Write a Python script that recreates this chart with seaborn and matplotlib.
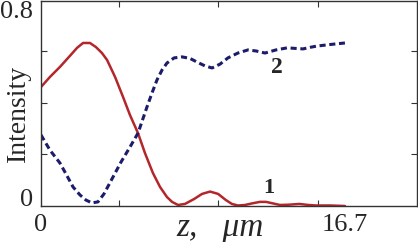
import matplotlib
matplotlib.use("Agg")
import matplotlib.pyplot as plt
import seaborn as sns
import pandas as pd

# Curve 1 (solid red)
z1 = [0.0, 0.49, 1.04, 1.59, 1.98, 2.31, 2.69, 3.02, 3.35, 3.63, 4.07, 4.51, 4.89, 5.33, 5.71,
      6.15, 6.54, 6.92, 7.2, 7.53, 7.91, 8.41, 8.85, 9.29, 9.73, 10.16, 10.49, 10.82, 11.21,
      11.59, 12.03, 12.36, 12.75, 13.13, 13.6, 14.2, 14.7, 15.1, 15.9, 16.7]
i1 = [0.462, 0.501, 0.540, 0.583, 0.614, 0.633, 0.633, 0.617, 0.594, 0.567, 0.501, 0.423, 0.353,
      0.283, 0.206, 0.128, 0.074, 0.035, 0.016, 0.004, 0.008, 0.027, 0.047, 0.056, 0.047, 0.023,
      0.008, 0.002, 0.004, 0.010, 0.016, 0.016, 0.010, 0.004, 0.005, 0.008, 0.004, 0.002, 0.002,
      0.0]

# Curve 2 (dashed blue)
z2 = [0.0, 0.49, 1.04, 1.43, 1.76, 2.14, 2.47, 2.80, 3.13, 3.46, 3.96, 4.40, 4.89, 5.33, 5.82,
      6.10, 6.37, 6.65, 6.92, 7.31, 7.75, 8.19, 8.57, 9.01, 9.40, 9.84, 10.27, 10.82, 11.37,
      11.81, 12.31, 12.91, 13.52, 13.96, 14.40, 14.78, 15.16, 15.88, 16.70]
i2 = [0.276, 0.217, 0.167, 0.117, 0.074, 0.043, 0.023, 0.012, 0.016, 0.047, 0.113, 0.171, 0.229,
      0.283, 0.384, 0.439, 0.489, 0.528, 0.555, 0.575, 0.579, 0.573, 0.559, 0.544, 0.536, 0.551,
      0.575, 0.594, 0.606, 0.602, 0.594, 0.606, 0.614, 0.612, 0.610, 0.616, 0.621, 0.627, 0.633]

x_tick_labels = ["0", "16.7"]
x_tick_pos = [0.0, 16.7]
x_minor = [4.3, 9.75, 15.2]
y_tick_labels = ["0", "0.8"]
y_tick_pos = [0.0, 0.796]
y_minor = [0.2, 0.4, 0.6]

sns.set_style("white")
plt.rcParams["font.family"] = ["Liberation Serif", "DejaVu Serif"]

fig = plt.figure(figsize=(4.18, 2.42), dpi=100)
ax = fig.add_axes([41 / 418, 36 / 242, 376 / 418, 205 / 242])

df1 = pd.DataFrame({"z": z1, "I": i1})
df2 = pd.DataFrame({"z": z2, "I": i2})
sns.lineplot(data=df1, x="z", y="I", ax=ax, color="#b3262b", linewidth=1.8, sort=False)
sns.lineplot(data=df2, x="z", y="I", ax=ax, color="#1c1c6c", linewidth=2.2, sort=False,
             linestyle=(0, (2.0, 1.2)))

ax.set_xlim(0, 20.66)
ax.set_ylim(0, 0.796)

ax.set_xticks(x_tick_pos)
ax.set_xticklabels(x_tick_labels, fontsize=19)
ax.set_yticks(y_tick_pos)
ax.set_yticklabels(y_tick_labels, fontsize=19)
ax.set_xticks(x_minor, minor=True)
ax.set_yticks(y_minor, minor=True)
ax.tick_params(axis="both", which="major", length=0, pad=6)
ax.tick_params(axis="both", which="minor", direction="in", length=4, width=0.8,
               top=True, right=True, bottom=True, left=True, color="#333333")
ylabs = ax.get_yticklabels()
ylabs[0].set_va("baseline")
ylabs[1].set_va("top")

for s in ax.spines.values():
    s.set_color("#333333")
    s.set_linewidth(1.0)
    s.set_visible(True)

ax.set_xlabel("")
ax.set_ylabel("")
fig.text(18 / 418, (242 - 113) / 242, "Intensity", fontsize=20, rotation=90,
         ha="center", va="center")
ax.text(9.85, -0.025, "z,   μm", fontsize=24, style="italic", ha="center", va="top")
ax.text(12.5, 0.03, "1", fontsize=16, fontweight="bold", ha="center", va="bottom")
ax.text(12.97, 0.578, "2", fontsize=17, fontweight="bold", ha="center", va="top")

fig.savefig("out.png", dpi=100)
